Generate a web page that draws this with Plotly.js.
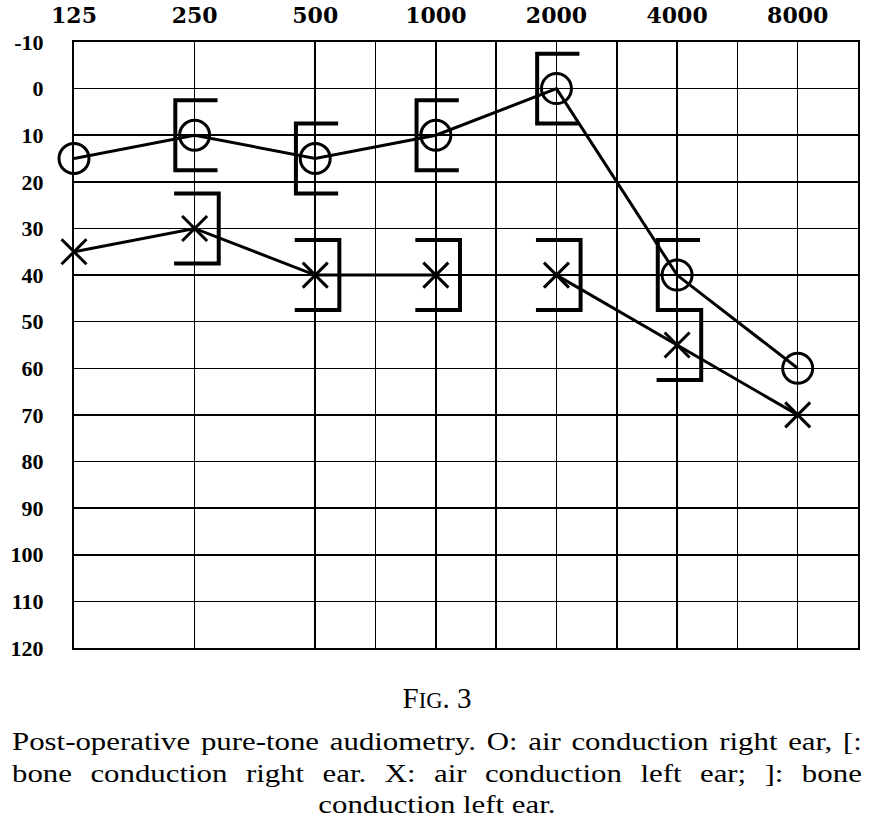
<!DOCTYPE html>
<html>
<head>
<meta charset="utf-8">
<script src="https://cdn.plot.ly/plotly-3.0.1.min.js"></script>
<style>
body { margin: 0; background: #fff; }
#wrap { position: relative; width: 874px; height: 836px; }
#graph { width: 874px; height: 836px; }
#fig {
    position: absolute; left: 0; top: 681px; width: 874px;
    text-align: center; font-family: "Liberation Serif", serif;
    font-size: 29px; line-height: 34px; color: #000;
}
#fig .sc { font-size: 0.78em; }
#caption {
    position: absolute; left: 12px; top: 726px; width: 675px;
    font-family: "Liberation Serif", serif; font-size: 24.5px; line-height: 31.5px;
    text-align: justify; text-align-last: center; color: #000;
    transform: scaleX(1.259); transform-origin: 0 0;
}
</style>
</head>
<body>
<div id="wrap">
    <div id="graph"></div>
    <div id="fig">F<span class="sc">IG</span>. 3</div>
    <div id="caption">Post-operative pure-tone audiometry. O: air conduction right ear, [: bone conduction right ear. X: air conduction left ear; ]: bone conduction left ear.</div>
</div>
<script>
// frequencies (Hz) along the top
var freqs = [125, 250, 500, 1000, 2000, 4000, 8000];
var freqLabels = ['125', '250', '500', '1000', '2000', '4000', '8000'];
// hearing level (dB) rows
var dbTicks = [-10, 0, 10, 20, 30, 40, 50, 60, 70, 80, 90, 100, 110, 120];

// O: air conduction right ear
var rightAir = [15, 10, 15, 10, 0, 40, 60];
// X: air conduction left ear
var leftAir = [35, 30, 40, 40, 40, 55, 70];
// segment i -> i+1 drawn? (no line between 1000 and 2000 Hz)
var leftAirLinked = [true, true, true, false, true, true];

// [ bone conduction right ear, ] bone conduction left ear
var boneFreqs = [250, 500, 1000, 2000, 4000];
var rightBone = [10, 15, 10, 0, 40];
var leftBone = [30, 40, 40, 40, 55];

/* ------------ marks ------------ */

var black = '#000';

// half-octave grid lines from 500 Hz up
var midLines = [];
for (var i = 0; i < freqs.length - 1; i++) {
    if (freqs[i] >= 500) midLines.push(Math.sqrt(freqs[i] * freqs[i + 1]));
}

/**
 * Builds one line trace holding a bracket for every point.
 * barOct / armOct are offsets in octaves of the vertical bar and arm ends.
 */
function bracketTrace(xs, ys, barOct, armOct) {
    var x = [], y = [];
    var half = 7.5;
    for (var i = 0; i < xs.length; i++) {
        var xb = xs[i] * Math.pow(2, barOct);
        var xa = xs[i] * Math.pow(2, armOct);
        x.push(xa, xb, xb, xa, null);
        y.push(ys[i] - half, ys[i] - half, ys[i] + half, ys[i] + half, null);
    }
    return {
        x: x, y: y,
        mode: 'lines',
        line: {color: black, width: 4},
        hoverinfo: 'skip'
    };
}

var rightAirTrace = {
    x: freqs,
    y: rightAir,
    mode: 'lines+markers',
    cliponaxis: false,
    line: {color: black, width: 3},
    marker: {symbol: 'circle-open', size: 30, color: black, line: {width: 3, color: black}}
};

var lx = [], ly = [];
for (var i = 0; i < freqs.length; i++) {
    lx.push(freqs[i]);
    ly.push(leftAir[i]);
    if (i < freqs.length - 1 && !leftAirLinked[i]) {
        lx.push(null);
        ly.push(null);
    }
}
var leftAirLine = {
    x: lx, y: ly,
    mode: 'lines',
    connectgaps: false,
    line: {color: black, width: 3}
};
var leftAirMarks = {
    x: freqs,
    y: leftAir,
    mode: 'markers',
    cliponaxis: false,
    marker: {symbol: 'x-thin-open', size: 25, color: black, line: {width: 3, color: black}}
};

var data = [
    bracketTrace(boneFreqs, rightBone, -0.16, 0.19),
    bracketTrace(boneFreqs, leftBone, 0.2, -0.17),
    leftAirLine,
    leftAirMarks,
    rightAirTrace
];

var layout = {
    width: 874,
    height: 836,
    showlegend: false,
    paper_bgcolor: '#fff',
    plot_bgcolor: '#fff',
    margin: {l: 74, r: 16, t: 42, b: 188},
    xaxis: {
        type: 'log',
        side: 'top',
        range: [Math.log10(freqs[0]), Math.log10(freqs[freqs.length - 1] * Math.SQRT2)],
        tickmode: 'array',
        tickvals: freqs,
        ticktext: freqLabels,
        ticks: '',
        ticklabelstandoff: 8,
        tickfont: {family: 'DejaVu Serif', size: 22, weight: 'bold', color: black},
        showgrid: true,
        gridcolor: black,
        gridwidth: 1.5,
        minor: {tickmode: 'array', tickvals: midLines, showgrid: true, gridcolor: black, gridwidth: 1.5, ticks: ''},
        showline: true,
        mirror: true,
        linecolor: black,
        linewidth: 2,
        zeroline: false
    },
    yaxis: {
        range: [120, -10],
        tickmode: 'array',
        tickvals: dbTicks,
        ticktext: dbTicks.map(String),
        ticks: '',
        ticklabelstandoff: 24,
        tickfont: {family: 'Liberation Serif', size: 22, weight: 'bold', color: black},
        showgrid: true,
        gridcolor: black,
        gridwidth: 1.5,
        showline: true,
        mirror: true,
        linecolor: black,
        linewidth: 2,
        zeroline: false
    }
};

Plotly.newPlot('graph', data, layout, {staticPlot: true});
</script>
</body>
</html>
